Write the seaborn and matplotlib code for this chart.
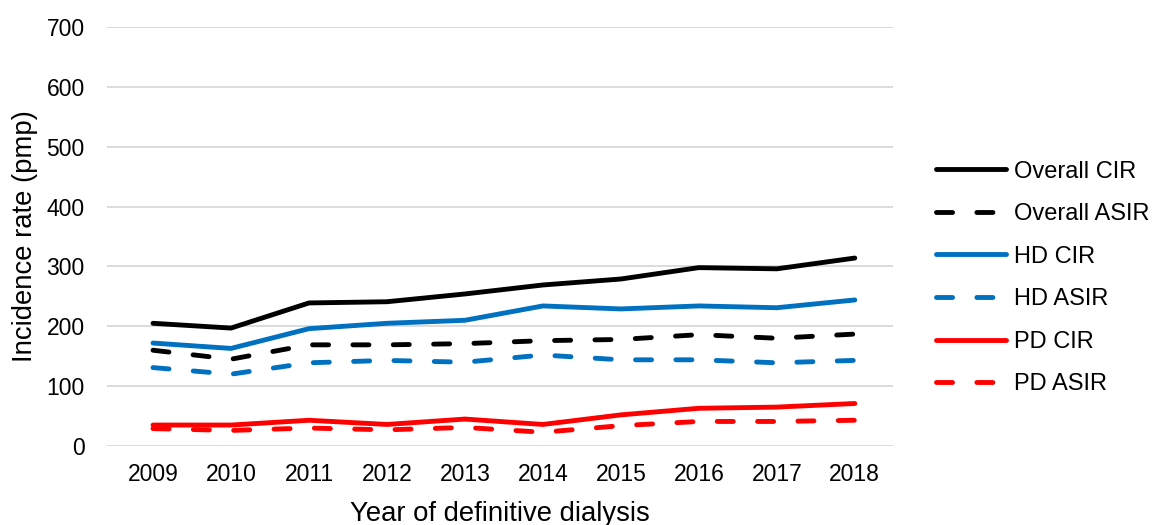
import pandas as pd
import numpy as np
import matplotlib.pyplot as plt
import seaborn as sns

years = ["2009", "2010", "2011", "2012", "2013", "2014", "2015", "2016", "2017", "2018"]

overall_cir = [205, 197, 239, 241, 254, 269, 279, 298, 296, 314]
overall_asir = [160, 145, 169, 169, 171, 176, 178, 186, 180, 187]
hd_cir = [172, 163, 196, 205, 210, 234, 229, 234, 231, 244]
hd_asir = [131, 120, 139, 143, 140, 152, 144, 144, 139, 143]
pd_cir = [35, 35, 43, 36, 45, 36, 52, 63, 65, 71]
pd_asir = [29, 26, 30, 27, 31, 23, 34, 41, 41, 43]

series = {
    "Overall CIR": overall_cir,
    "Overall ASIR": overall_asir,
    "HD CIR": hd_cir,
    "HD ASIR": hd_asir,
    "PD CIR": pd_cir,
    "PD ASIR": pd_asir,
}
colors = {
    "Overall CIR": "#000000", "Overall ASIR": "#000000",
    "HD CIR": "#0070C0", "HD ASIR": "#0070C0",
    "PD CIR": "#FF0000", "PD ASIR": "#FF0000",
}

rows = []
for name, vals in series.items():
    for i, v in enumerate(vals):
        rows.append({"Year": i, "Rate": v, "Series": name})
df = pd.DataFrame(rows)

sns.set_theme(style="white")
plt.rcParams['font.family'] = ['Liberation Sans', 'DejaVu Sans']
plt.rcParams['text.color'] = 'black'
plt.rcParams['axes.labelcolor'] = 'black'

fig = plt.figure(figsize=(11.58, 5.25), dpi=100)
ax = fig.add_axes([107 / 1158, 1 - 446 / 525, (893 - 107) / 1158, (446 - 27) / 525])

for name in series:
    sub = df[df["Series"] == name]
    dashed = "ASIR" in name
    sns.lineplot(data=sub, x="Year", y="Rate", ax=ax, color=colors[name], lw=3.5,
                 label=name, linestyle="--" if dashed else "-")

for line in ax.get_lines():
    if line.get_linestyle() == "--":
        line.set_dashes((3.3, 5.0))
    line.set_dash_capstyle("round")
    line.set_solid_capstyle("round")

ax.set_xlim(-0.59, 9.49)
ax.set_ylim(0, 700)
ax.set_yticks(range(0, 701, 100))
ax.set_xticks(range(len(years)))
ax.set_xticklabels(years)
ax.grid(axis="y", color="#d9d9d9", lw=1.3)
ax.set_axisbelow(True)
for s in ax.spines.values():
    s.set_visible(False)
ax.tick_params(axis="both", length=0, labelsize=16.5, colors="black", pad=12)
ax.tick_params(axis="y", pad=16)
ax.set_xlabel("Year of definitive dialysis", fontsize=19.8, labelpad=11)
ax.set_ylabel("Incidence rate (pmp)", fontsize=19.8, labelpad=6)

h, l = ax.get_legend_handles_labels()
ax.legend_.remove()
fig.legend(h, l, loc="center left", bbox_to_anchor=(915 / 1158, 1 - 278 / 525),
           frameon=False, fontsize=17, handlelength=2.95, handletextpad=0.34,
           labelspacing=0.87)

fig.savefig("out.png", dpi=100)
